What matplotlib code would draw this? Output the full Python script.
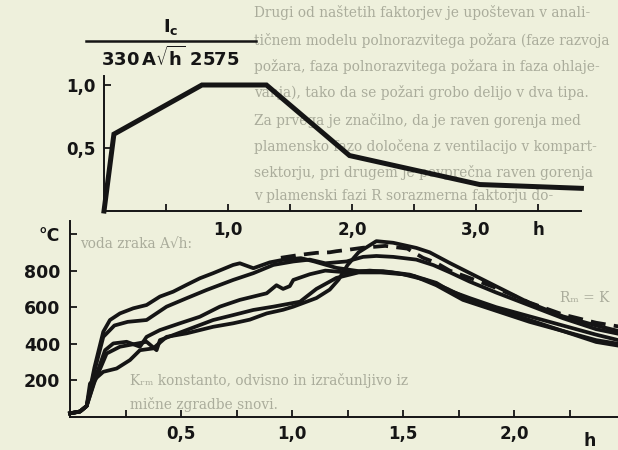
import matplotlib.pyplot as plt
from matplotlib.lines import Line2D

W, H = 618, 450
paper = '#eef0dc'
ink = '#151515'
faint = '#aaac9b'

# upper chart: normalised burning rate vs time
rate_h = [0, 0.08, 0.79, 1.31, 1.98, 3.03, 3.85]
rate_v = [0, 0.61, 1.0, 1.0, 0.44, 0.21, 0.18]
top_xticks = [0.5, 1.0, 1.5, 2.0, 2.5, 3.0, 3.5]
top_xlabels = ['', '1,0', '', '2,0', '', '3,0', 'h']
top_yticks = [0.5, 1.0]
top_ylabels = ['0,5', '1,0']

# lower chart: measured temperature curves
a_h = [0, 0.045, 0.075, 0.11, 0.15, 0.18, 0.225, 0.285, 0.345, 0.405, 0.465, 0.525, 0.585, 0.645,
       0.735, 0.765, 0.826, 0.9, 0.96, 1.04, 1.1, 1.2, 1.3, 1.41, 1.53, 1.65, 1.71, 1.8, 1.92,
       2.07, 2.22, 2.37, 2.47]
a_t = [20, 30, 60, 270, 466, 530, 566, 594, 612, 658, 685, 722, 758, 786,
       831, 840, 813, 845, 859, 868, 850, 815, 797, 797, 778, 733, 690, 650, 600,
       550, 500, 450, 420]
b_h = [0, 0.045, 0.075, 0.11, 0.15, 0.2, 0.26, 0.345, 0.435, 0.525, 0.615, 0.735, 0.826, 0.916,
       1.006, 1.08, 1.15, 1.246, 1.32, 1.38, 1.456, 1.56, 1.637, 1.712, 1.8, 1.92, 2.07, 2.22,
       2.37, 2.47]
b_t = [20, 30, 60, 250, 438, 500, 520, 530, 603, 649, 694, 749, 786, 831,
       850, 860, 840, 850, 875, 880, 875, 860, 830, 790, 740, 680, 610, 540,
       480, 455]
c_h = [0, 0.045, 0.075, 0.11, 0.158, 0.195, 0.255, 0.315, 0.345, 0.405, 0.495, 0.585, 0.675,
       0.765, 0.886, 0.93, 0.96, 0.99, 1.006, 1.08, 1.15, 1.25, 1.35, 1.45, 1.55, 1.65, 1.77,
       1.92, 2.07, 2.22, 2.37, 2.47]
c_t = [20, 30, 60, 200, 365, 402, 411, 384, 438, 475, 512, 548, 603,
       640, 676, 720, 700, 715, 749, 780, 800, 790, 800, 790, 770, 720, 640,
       580, 520, 470, 420, 400]
d_h = [0, 0.045, 0.075, 0.11, 0.165, 0.225, 0.345, 0.39, 0.405, 0.525, 0.645, 0.735, 0.826,
       0.916, 1.036, 1.11, 1.2, 1.3, 1.4, 1.5, 1.6, 1.7, 1.8, 1.92, 2.07, 2.22, 2.37, 2.47]
d_t = [20, 30, 60, 190, 347, 384, 411, 365, 420, 475, 530, 557, 585,
       603, 630, 700, 760, 790, 790, 780, 750, 700, 640, 590, 530, 470, 410, 390]
e_h = [0, 0.045, 0.075, 0.09, 0.15, 0.21, 0.27, 0.315, 0.375, 0.435, 0.525, 0.645, 0.735, 0.81,
       0.886, 0.96, 1.006, 1.11, 1.17, 1.21, 1.25, 1.3, 1.38, 1.456, 1.56, 1.62, 1.71, 1.8,
       1.92, 2.07, 2.22, 2.37, 2.47]
e_t = [20, 30, 60, 183, 247, 265, 311, 365, 375, 438, 457, 493, 512, 532,
       566, 586, 603, 650, 696, 751, 830, 900, 961, 952, 924, 900, 842, 787,
       714, 623, 550, 500, 470]
dash_h = [0.95, 1.03, 1.11, 1.17, 1.2, 1.26, 1.32, 1.42, 1.52, 1.59, 1.65, 1.71, 1.8, 1.92,
          2.07, 2.22, 2.37, 2.47]
dash_t = [870, 885, 897, 900, 906, 915, 925, 935, 920, 870, 842, 800, 760, 705,
          625, 560, 515, 495]
bot_xticks = [0.25, 0.5, 0.75, 1.0, 1.25, 1.5, 1.75, 2.0, 2.25]
bot_xlabels = ['', '0,5', '', '1,0', '', '1,5', '', '2,0', '']
bot_yticks = [200, 400, 600, 800, 1000]
bot_ylabels = ['200', '400', '600', '800', '°C']

page_lines = [
    (254, 12, 'Drugi od naštetih faktorjev je upoštevan v anali-'),
    (254, 40, 'tičnem modelu polnorazvitega požara (faze razvoja'),
    (254, 67, 'požara, faza polnorazvitega požara in faza ohlaje-'),
    (254, 93, 'vanja), tako da se požari grobo delijo v dva tipa.'),
    (254, 120, 'Za prvega je značilno, da je raven gorenja med'),
    (254, 146, 'plamensko fazo določena z ventilacijo v kompart-'),
    (254, 173, 'sektorju, pri drugem je povprečna raven gorenja'),
    (254, 196, 'v plamenski fazi R sorazmerna faktorju do-'),
    (80, 244, 'voda zraka A√h:'),
    (560, 298, 'Rₘ = K'),
    (130, 380, 'Kᵣₘ konstanto, odvisno in izračunljivo iz'),
    (130, 405, 'mične zgradbe snovi.'),
]

plt.rcParams['mathtext.fontset'] = 'dejavusans'


def fx(x):
    return x / W


def fy(y):
    return 1 - y / H


fig = plt.figure(figsize=(W / 100, H / 100), dpi=100, facecolor=paper)

for x, y, s in page_lines:
    fig.text(fx(x), fy(y), s, fontsize=9.9, family='DejaVu Serif', color=faint,
             va='center', ha='left', zorder=-1)

# upper axes: x 0 at px 104, 124 px per hour; y 0 at px 211, 126 px per unit
ax1 = fig.add_axes([fx(104), fy(211), 3.85 * 124 / W, 1.07 * 126 / H])
ax1.plot(rate_h, rate_v, color=ink, lw=3.6, solid_joinstyle='miter', clip_on=False)
ax1.set_xlim(0, 3.85)
ax1.set_ylim(0, 1.07)

# lower axes: x 0 at px 70, 222 px per hour; y 0 at px 417, 0.183 px per degree
ax2 = fig.add_axes([fx(70), fy(417), 2.47 * 222 / W, 1070 * 0.183 / H])
for hh, tt in [(a_h, a_t), (b_h, b_t), (c_h, c_t), (d_h, d_t), (e_h, e_t)]:
    ax2.plot(hh, tt, color=ink, lw=2.7, clip_on=False)
ax2.plot(dash_h, dash_t, color=ink, lw=2.7, ls=(0, (4, 2.2)), clip_on=False)
ax2.set_xlim(0, 2.47)
ax2.set_ylim(0, 1070)

for ax in (ax1, ax2):
    ax.set_facecolor('none')
    for side in ('top', 'right'):
        ax.spines[side].set_visible(False)
    for side in ('left', 'bottom'):
        ax.spines[side].set_linewidth(1.4)
        ax.spines[side].set_color(ink)
    ax.tick_params(direction='in', length=5, width=1.3, colors=ink, labelcolor=ink)

ax1.set_xticks(top_xticks, top_xlabels, fontsize=12, fontweight='bold')
ax1.set_yticks(top_yticks, top_ylabels, fontsize=12, fontweight='bold')
ax1.tick_params(axis='x', pad=7)
ax1.tick_params(axis='y', pad=6)

ax2.set_xticks(bot_xticks, bot_xlabels, fontsize=12, fontweight='bold')
ax2.set_yticks(bot_yticks, bot_ylabels, fontsize=12.5, fontweight='bold')
ax2.tick_params(axis='x', pad=6)
ax2.tick_params(axis='y', pad=7)
ax2.text(2.34, -0.075, 'h', transform=ax2.get_xaxis_transform(), fontsize=12.5,
         fontweight='bold', color=ink, ha='center', va='top')

# ordinate label of the upper chart
fig.text(fx(171), fy(27), r'$\mathbf{I_c}$', fontsize=13, color=ink, ha='center', va='center')
fig.add_artist(Line2D([fx(86), fx(256)], [fy(41), fy(41)], transform=fig.transFigure,
                      color=ink, lw=1.8))
fig.text(fx(170), fy(58), r'$\mathbf{330\,A}\sqrt{\mathbf{h}}\ \mathbf{2575}$', fontsize=13,
         color=ink, ha='center', va='center')

fig.savefig('out.png', dpi=100, facecolor=paper)
